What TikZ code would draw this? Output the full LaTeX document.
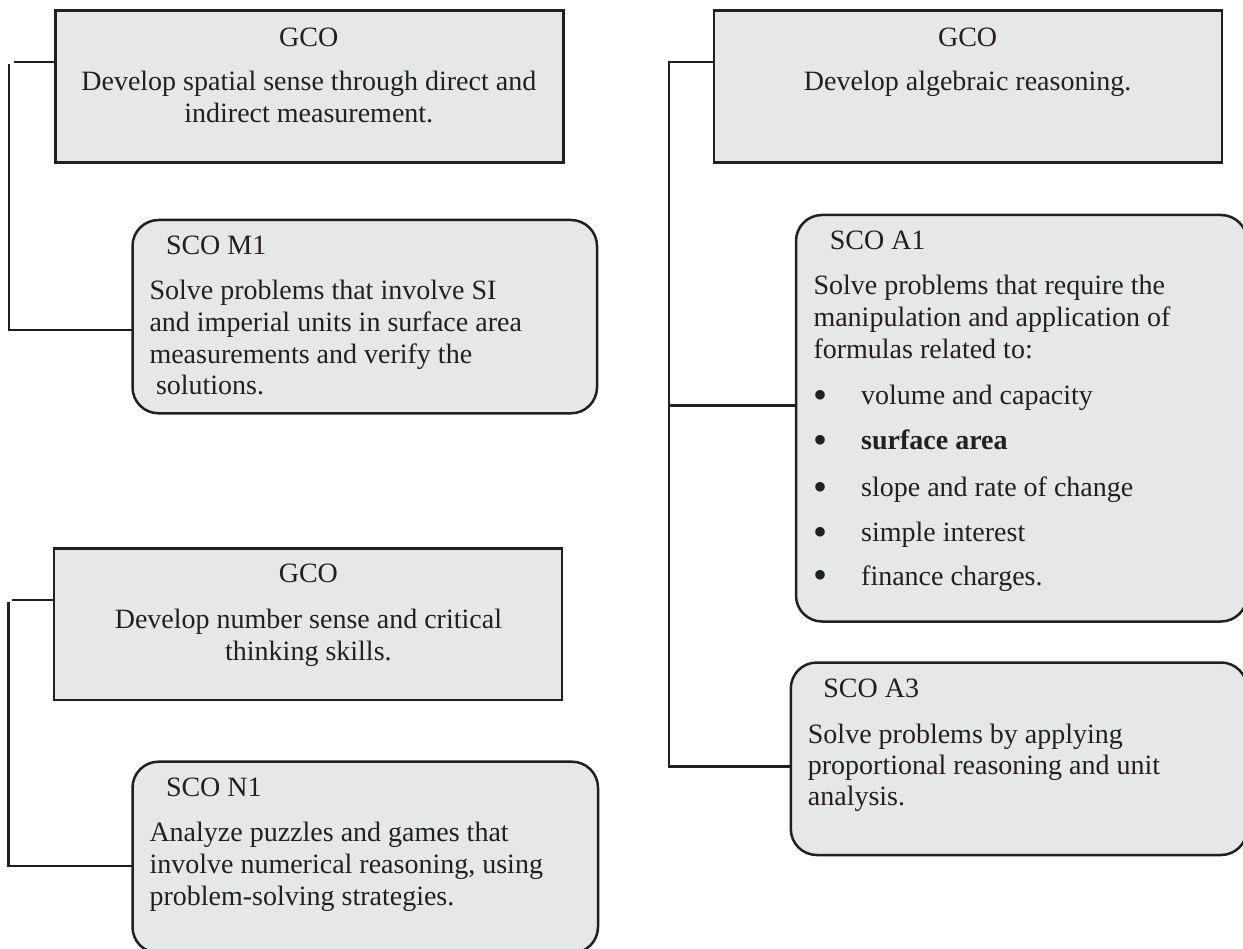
\documentclass[tikz,border=0pt]{standalone}
\usepackage{fontspec}
\setmainfont{Liberation Serif}
\definecolor{ink}{HTML}{231F20}
\definecolor{panel}{HTML}{E6E7E8}
\newcommand{\bigdot}{\raisebox{-3.5pt}{\fontsize{40}{40}\selectfont\textbullet}}
\begin{document}
\begin{tikzpicture}[x=1pt,y=-1pt,
  gbox/.style={draw=ink,fill=panel,line width=2.5pt,rectangle,anchor=north west,inner sep=0pt,outer sep=0pt},
  sbox/.style={gbox,rounded corners=26pt},
  conn/.style={draw=ink,line width=2.1pt},
  txt/.style={font=\fontsize{28}{31.7}\selectfont,text=ink,inner sep=0pt,outer sep=0pt},
  head/.style={txt,anchor=base},
  line/.style={txt,anchor=base west}]
\useasboundingbox (0,0) rectangle (1243,949);
\clip (0,0) rectangle (1243,949);

% ---------- boxes ----------
\node[gbox,minimum width=508.1pt,minimum height=151.6pt] (gco1) at (55.4,10.7) {};
\node[sbox,minimum width=464.5pt,minimum height=193.3pt] (m1) at (132.5,220) {};
\node[gbox,minimum width=507.7pt,minimum height=151.6pt] (gco2) at (714.2,10.7) {};
\node[sbox,minimum width=451pt,minimum height=406.5pt] (a1) at (796,215) {};
\node[sbox,minimum width=456.2pt,minimum height=192.5pt] (a3) at (790.8,662.5) {};
\node[gbox,minimum width=508.1pt,minimum height=151.7pt] (gco3) at (53.9,548.3) {};
\node[sbox,minimum width=465.5pt,minimum height=191.3pt] (n1) at (132.5,761.7) {};

% ---------- connectors ----------
\coordinate (p1) at (13.8,62.3);
\coordinate (q1) at (8.7,64.5);
\coordinate (s1) at (8.7,330);
\draw[conn] (gco1.west |- p1) -- (p1);
\draw[conn] (q1) -- (s1) -- (m1.west |- s1);

\coordinate (p3) at (11.7,600);
\coordinate (q3) at (8.5,602.2);
\coordinate (s3) at (8.5,866);
\draw[conn] (gco3.west |- p3) -- (p3);
\draw[conn] (q3) -- (s3) -- (n1.west |- s3);

\coordinate (r1) at (669,62.3);
\coordinate (r2) at (669,405.5);
\coordinate (r3) at (669,766.5);
\draw[conn] (gco2.west |- r1) -- (r1) -- (r3) -- (a3.west |- r3);
\draw[conn] (r2) -- (a1.west |- r2);

% ---------- GCO: spatial sense ----------
\node[head] (g1h) at (308.8,46.7) {GCO};
\node[head] (g1a) at (308.8,90.7) {Develop spatial sense through direct and};
\node[head] (g1b) at (308.8,122.7) {indirect measurement.};

% ---------- SCO M1 ----------
\node[line] (m1h) at (166,255) {SCO M1};
\node[line] (m1a) at (149.5,300) {Solve problems that involve SI};
\node[line] (m1b) at (149.5,331.7) {and imperial units in surface area};
\node[line] (m1c) at (149.5,363.3) {measurements and verify the};
\node[line] (m1d) at (156,395) {solutions.};

% ---------- GCO: algebraic reasoning ----------
\node[head] (g2h) at (967.6,46.7) {GCO};
\node[head] (g2a) at (967.6,90.7) {Develop algebraic reasoning.};

% ---------- SCO A1 ----------
\node[line] (a1h) at (829.8,250) {SCO A1};
\node[line] (a1a) at (813.5,295) {Solve problems that require the};
\node[line] (a1b) at (813.5,326.5) {manipulation and application of};
\node[line] (a1c) at (813.5,358.3) {formulas related to:};
\foreach \y/\item [count=\i] in {405/volume and capacity,
    450/\textbf{surface area},
    496.7/slope and rate of change,
    541.7/simple interest,
    585/finance charges.}{
  \node[line] (a1d\i) at (813,\y) {\bigdot};
  \node[line] (a1e\i) at (861.2,\y) {\item};
}

% ---------- SCO A3 ----------
\node[line] (a3h) at (823.4,697.7) {SCO A3};
\node[line] (a3a) at (807.9,743.3) {Solve problems by applying};
\node[line] (a3b) at (807.9,774.3) {proportional reasoning and unit};
\node[line] (a3c) at (807.9,805) {analysis.};

% ---------- GCO: number sense ----------
\node[head] (g3h) at (308.4,582.7) {GCO};
\node[head] (g3a) at (308.4,628.3) {Develop number sense and critical};
\node[head] (g3b) at (308.4,660) {thinking skills.};

% ---------- SCO N1 ----------
\node[line] (n1h) at (166,796.7) {SCO N1};
\node[line] (n1a) at (149.5,841.7) {Analyze puzzles and games that};
\node[line] (n1b) at (149.5,873.3) {involve numerical reasoning, using};
\node[line] (n1c) at (149.5,905) {problem-solving strategies.};
\end{tikzpicture}
\end{document}
